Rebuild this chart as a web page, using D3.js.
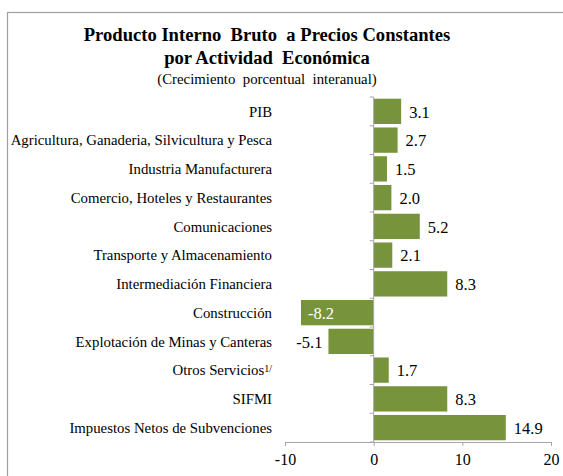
<!DOCTYPE html>
<html>
<head>
<meta charset="utf-8">
<script src="https://cdn.jsdelivr.net/npm/d3@7"></script>
<style>
  body { margin: 0; background: #fff; }
  text { font-family: "Liberation Serif", "Times New Roman", serif; white-space: pre; }
</style>
</head>
<body>
<div id="chart-area"></div>
<script>
// data
var categories = [
  "PIB",
  "Agricultura, Ganaderia, Silvicultura y Pesca",
  "Industria Manufacturera",
  "Comercio, Hoteles y Restaurantes",
  "Comunicaciones",
  "Transporte y Almacenamiento",
  "Intermediación Financiera",
  "Construcción",
  "Explotación de Minas y Canteras",
  "Otros Servicios",
  "SIFMI",
  "Impuestos Netos de Subvenciones"
];
var values = [3.1, 2.7, 1.5, 2.0, 5.2, 2.1, 8.3, -8.2, -5.1, 1.7, 8.3, 14.9];
var tickValues = [-10, 0, 10, 20];

var svg = d3.select("#chart-area").append("svg")
  .attr("width", 563)
  .attr("height", 476);

// chart frame
svg.append("rect")
  .attr("x", 7.5).attr("y", 12.5)
  .attr("width", 600).attr("height", 500)
  .attr("fill", "none")
  .attr("stroke", "#A0A0A0")
  .attr("stroke-width", 1.2);

// titles
svg.append("text")
  .attr("x", 267).attr("y", 41)
  .attr("text-anchor", "middle")
  .style("font-size", "18.6px").style("font-weight", "bold")
  .text("Producto Interno  Bruto  a Precios Constantes");
svg.append("text")
  .attr("x", 267).attr("y", 64)
  .attr("text-anchor", "middle")
  .style("font-size", "18.6px").style("font-weight", "bold")
  .text("por Actividad  Económica");
svg.append("text")
  .attr("x", 267).attr("y", 84)
  .attr("text-anchor", "middle")
  .style("font-size", "14.8px")
  .text("(Crecimiento  porcentual  interanual)");

var x = d3.scaleLinear().domain([-10, 20]).range([285, 551]);
var y = d3.scaleBand().domain(categories).range([97, 442]).paddingInner(0.12).paddingOuter(0.06);

// bars
svg.selectAll("rect.bar").data(values)
  .enter().append("rect")
    .attr("class", "bar")
    .attr("x", function(d) { return x(Math.min(0, d)); })
    .attr("y", function(d, i) { return y(categories[i]); })
    .attr("width", function(d) { return Math.abs(x(d) - x(0)); })
    .attr("height", y.bandwidth())
    .attr("fill", "#77933C");

// x axis
var xAxis = svg.append("g")
  .attr("transform", "translate(0,442)")
  .call(d3.axisBottom(x).tickValues(tickValues).tickSize(4).tickPadding(8)
    .tickFormat(function(d) { return String(d); }));
xAxis.select(".domain").attr("stroke", "#A6A6A6");
xAxis.selectAll(".tick line").attr("stroke", "#A6A6A6");
xAxis.selectAll(".tick text")
  .style("font-size", "16px")
  .attr("fill", "#000");

// y axis line with ticks at band boundaries
var yAxisG = svg.append("g");
yAxisG.append("line")
  .attr("x1", x(0)).attr("x2", x(0))
  .attr("y1", 97).attr("y2", 442)
  .attr("stroke", "#A6A6A6");
var bounds = d3.range(categories.length + 1).map(function(i) { return 97 + i * (345 / categories.length); });
yAxisG.selectAll("line.tk").data(bounds)
  .enter().append("line")
    .attr("class", "tk")
    .attr("x1", x(0) - 4).attr("x2", x(0))
    .attr("y1", function(d) { return d; })
    .attr("y2", function(d) { return d; })
    .attr("stroke", "#A6A6A6");

// category labels
var catLabels = svg.selectAll("text.cat").data(categories)
  .enter().append("text")
    .attr("class", "cat")
    .attr("x", 272)
    .attr("y", function(d) { return y(d) + y.bandwidth() / 2; })
    .attr("dy", "0.35em")
    .attr("text-anchor", "end")
    .style("font-size", "14.8px");
catLabels.each(function(d) {
  var t = d3.select(this);
  t.append("tspan").text(d);
  if (d === "Otros Servicios") {
    t.append("tspan")
      .attr("dy", "-0.3em")
      .style("font-size", "10px")
      .text("1/");
  }
});

// value labels
svg.selectAll("text.val").data(values)
  .enter().append("text")
    .attr("class", "val")
    .attr("x", function(d, i) {
      if (categories[i] === "Construcción") return x(d) + 7;
      return d < 0 ? x(d) - 6 : x(d) + 8;
    })
    .attr("y", function(d, i) { return y(categories[i]) + y.bandwidth() / 2; })
    .attr("dy", "0.38em")
    .attr("text-anchor", function(d, i) {
      return (d < 0 && categories[i] !== "Construcción") ? "end" : "start";
    })
    .attr("fill", function(d, i) { return categories[i] === "Construcción" ? "#fff" : "#000"; })
    .style("font-size", "16.5px")
    .text(function(d) { return d.toFixed(1); });
</script>
</body>
</html>
